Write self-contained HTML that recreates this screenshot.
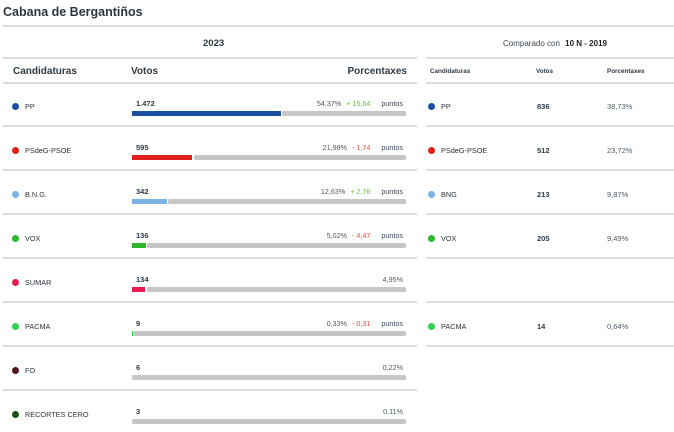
<!DOCTYPE html>
<html><head><meta charset="utf-8">
<style>
*{margin:0;padding:0;box-sizing:border-box}
body{width:674px;height:432px;background:#fff;position:relative;overflow:hidden;font-family:"Liberation Sans",Arial,sans-serif;color:#2e3a44}
.a{position:absolute;white-space:nowrap}
.ln{position:absolute;height:2px;background:#dcdcdc}
.dot{position:absolute;width:7px;height:7px;border-radius:50%}
.nm{position:absolute;font-size:7.3px;line-height:10px;height:10px;color:#2b353e;white-space:nowrap}
.num{position:absolute;font-size:7.5px;font-weight:bold;line-height:10px;height:10px;color:#2e3a44}
.pc{position:absolute;right:271px;font-size:7.2px;line-height:10px;height:10px;color:#4d5a64;text-align:right;white-space:nowrap}
.g{color:#6cbf3c}.r{color:#ee4b3a}
.pt{margin-left:11px;color:#3b4852}
.dl{margin-left:5px}
.bar{position:absolute;height:5px}
.gr{background:#c6c6c6;border-radius:2px}
.rn{position:absolute;font-size:7.5px;line-height:10px;height:10px}
</style></head><body>
<div class="a" style="left:3px;top:3px;font-size:12.5px;font-weight:bold;line-height:18px;color:#2b3640">Cabana de Bergantiños</div>
<div class="ln" style="left:3px;top:25px;width:671px"></div>

<div class="a" style="left:203px;top:38px;font-size:9.5px;font-weight:bold;line-height:12px">2023</div>
<div class="a" style="left:503px;top:38px;font-size:8px;line-height:12px;color:#3b4852">Comparado con <b style="margin-left:3px;color:#222">10 N - 2019</b></div>

<div class="ln" style="left:3px;top:57px;width:414px"></div>
<div class="ln" style="left:426px;top:57px;width:248px"></div>

<div class="a" style="left:13px;top:65px;font-size:10px;font-weight:bold;line-height:13px">Candidaturas</div>
<div class="a" style="left:131px;top:65px;font-size:10px;font-weight:bold;line-height:13px">Votos</div>
<div class="a" style="right:267px;top:65px;font-size:10px;font-weight:bold;line-height:13px">Porcentaxes</div>
<div class="a" style="left:430px;top:67px;font-size:6.3px;font-weight:bold;line-height:10px">Candidaturas</div>
<div class="a" style="left:536px;top:67px;font-size:6.3px;font-weight:bold;line-height:10px">Votos</div>
<div class="a" style="left:607px;top:67px;font-size:6.3px;font-weight:bold;line-height:10px">Porcentaxes</div>

<div class="ln" style="left:3px;top:82px;width:414px"></div>
<div class="ln" style="left:426px;top:82px;width:248px"></div>

<!-- Row 1 PP -->
<div class="dot" style="left:12px;top:103px;background:#1b4f9f"></div>
<div class="nm" style="left:25px;top:102px">PP</div>
<div class="num" style="left:136px;top:99px">1.472</div>
<div class="pc" style="top:99px">54,37%<span class="dl g">+ 15,64</span><span class="pt">puntos</span></div>
<div class="bar" style="left:132px;top:111px;width:149px;background:#1b4f9f"></div>
<div class="bar gr" style="left:282px;top:111px;width:124px"></div>
<div class="dot" style="left:428px;top:103px;background:#1b4f9f"></div>
<div class="nm" style="left:441px;top:102px">PP</div>
<div class="rn" style="left:537px;top:102px;font-weight:bold">836</div>
<div class="rn" style="left:607px;top:102px;color:#4d5a64">38,73%</div>
<div class="ln" style="left:3px;top:125px;width:414px"></div>
<div class="ln" style="left:426px;top:125px;width:248px"></div>

<!-- Row 2 PSOE -->
<div class="dot" style="left:12px;top:147px;background:#e01f1f"></div>
<div class="nm" style="left:25px;top:146px">PSdeG-PSOE</div>
<div class="num" style="left:136px;top:143px">595</div>
<div class="pc" style="top:143px">21,98%<span class="dl r">- 1,74</span><span class="pt">puntos</span></div>
<div class="bar" style="left:132px;top:155px;width:60px;background:#e01f1f"></div>
<div class="bar gr" style="left:194px;top:155px;width:212px"></div>
<div class="dot" style="left:428px;top:147px;background:#e01f1f"></div>
<div class="nm" style="left:441px;top:146px">PSdeG-PSOE</div>
<div class="rn" style="left:537px;top:146px;font-weight:bold">512</div>
<div class="rn" style="left:607px;top:146px;color:#4d5a64">23,72%</div>
<div class="ln" style="left:3px;top:169px;width:414px"></div>
<div class="ln" style="left:426px;top:169px;width:248px"></div>

<!-- Row 3 BNG -->
<div class="dot" style="left:12px;top:191px;background:#7ab2e3"></div>
<div class="nm" style="left:25px;top:190px">B.N.G.</div>
<div class="num" style="left:136px;top:187px">342</div>
<div class="pc" style="top:187px">12,63%<span class="dl g">+ 2,76</span><span class="pt">puntos</span></div>
<div class="bar" style="left:132px;top:199px;width:35px;background:#7ab2e3"></div>
<div class="bar gr" style="left:168px;top:199px;width:238px"></div>
<div class="dot" style="left:428px;top:191px;background:#7ab2e3"></div>
<div class="nm" style="left:441px;top:190px">BNG</div>
<div class="rn" style="left:537px;top:190px;font-weight:bold">213</div>
<div class="rn" style="left:607px;top:190px;color:#4d5a64">9,87%</div>
<div class="ln" style="left:3px;top:213px;width:414px"></div>
<div class="ln" style="left:426px;top:213px;width:248px"></div>

<!-- Row 4 VOX -->
<div class="dot" style="left:12px;top:235px;background:#2db82d"></div>
<div class="nm" style="left:25px;top:234px">VOX</div>
<div class="num" style="left:136px;top:231px">136</div>
<div class="pc" style="top:231px">5,02%<span class="dl r">- 4,47</span><span class="pt">puntos</span></div>
<div class="bar" style="left:132px;top:243px;width:14px;background:#2db82d"></div>
<div class="bar gr" style="left:147px;top:243px;width:259px"></div>
<div class="dot" style="left:428px;top:235px;background:#2db82d"></div>
<div class="nm" style="left:441px;top:234px">VOX</div>
<div class="rn" style="left:537px;top:234px;font-weight:bold">205</div>
<div class="rn" style="left:607px;top:234px;color:#4d5a64">9,49%</div>
<div class="ln" style="left:3px;top:257px;width:414px"></div>
<div class="ln" style="left:426px;top:257px;width:248px"></div>

<!-- Row 5 SUMAR -->
<div class="dot" style="left:12px;top:279px;background:#ea1c4f"></div>
<div class="nm" style="left:25px;top:278px">SUMAR</div>
<div class="num" style="left:136px;top:275px">134</div>
<div class="pc" style="top:275px">4,95%</div>
<div class="bar" style="left:132px;top:287px;width:13px;background:#ea1c4f"></div>
<div class="bar gr" style="left:147px;top:287px;width:259px"></div>
<div class="ln" style="left:3px;top:301px;width:414px"></div>
<div class="ln" style="left:426px;top:301px;width:248px"></div>

<!-- Row 6 PACMA -->
<div class="dot" style="left:12px;top:323px;background:#2fd158"></div>
<div class="nm" style="left:25px;top:322px">PACMA</div>
<div class="num" style="left:136px;top:319px">9</div>
<div class="pc" style="top:319px">0,33%<span class="dl r">- 0,31</span><span class="pt">puntos</span></div>
<div class="bar" style="left:132px;top:331px;width:1px;background:#2fd158"></div>
<div class="bar gr" style="left:133px;top:331px;width:273px"></div>
<div class="dot" style="left:428px;top:323px;background:#2fd158"></div>
<div class="nm" style="left:441px;top:322px">PACMA</div>
<div class="rn" style="left:537px;top:322px;font-weight:bold">14</div>
<div class="rn" style="left:607px;top:322px;color:#4d5a64">0,64%</div>
<div class="ln" style="left:3px;top:345px;width:414px"></div>
<div class="ln" style="left:426px;top:345px;width:248px"></div>

<!-- Row 7 FO -->
<div class="dot" style="left:12px;top:367px;background:#4f1419"></div>
<div class="nm" style="left:25px;top:366px">FO</div>
<div class="num" style="left:136px;top:363px">6</div>
<div class="pc" style="top:363px">0,22%</div>
<div class="bar gr" style="left:132px;top:375px;width:274px"></div>
<div class="ln" style="left:3px;top:389px;width:414px"></div>

<!-- Row 8 RECORTES CERO -->
<div class="dot" style="left:12px;top:411px;background:#1d4d1d"></div>
<div class="nm" style="left:25px;top:410px">RECORTES CERO</div>
<div class="num" style="left:136px;top:407px">3</div>
<div class="pc" style="top:407px">0,11%</div>
<div class="bar gr" style="left:132px;top:419px;width:274px"></div>
</body></html>
